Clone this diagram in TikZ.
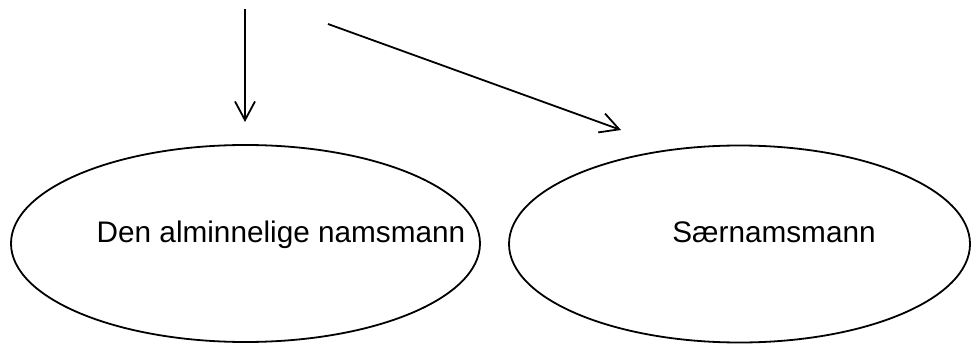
\documentclass[tikz,border=0pt]{standalone}
\usepackage{fontspec}
\setmainfont{Liberation Sans}
\usetikzlibrary{shapes.geometric,arrows.meta}
\tikzset{
  oval/.style={ellipse, draw=black, line width=1.35pt, inner sep=0pt},
  lbl/.style={anchor=base, inner sep=0pt, font=\fontsize{22.3}{26}\selectfont},
  conn/.style={line width=1.35pt, -{Straight Barb[length=14pt,width=15pt,line width=1.35pt]}}
}
\begin{document}
\begin{tikzpicture}[x=0.75pt,y=-0.75pt]
\useasboundingbox (0,0) rectangle (973,345);
\node[oval, minimum width=351.75pt, minimum height=147.75pt] (e1) at (245.5,243.5) {};
\node[oval, minimum width=345.75pt, minimum height=147.75pt] (e2) at (739.5,244) {};
\node[lbl] (t1) at (281,243) {Den alminnelige namsmann};
\node[lbl] (t2) at (774,243) {Særnamsmann};
\coordinate (s1) at (245,9);
\coordinate (d1) at (245,122);
\coordinate (s2) at (328,24);
\coordinate (d2) at (621,130);
\draw[conn] (s1) -- (d1);
\draw[conn] (s2) -- (d2);
\end{tikzpicture}
\end{document}
